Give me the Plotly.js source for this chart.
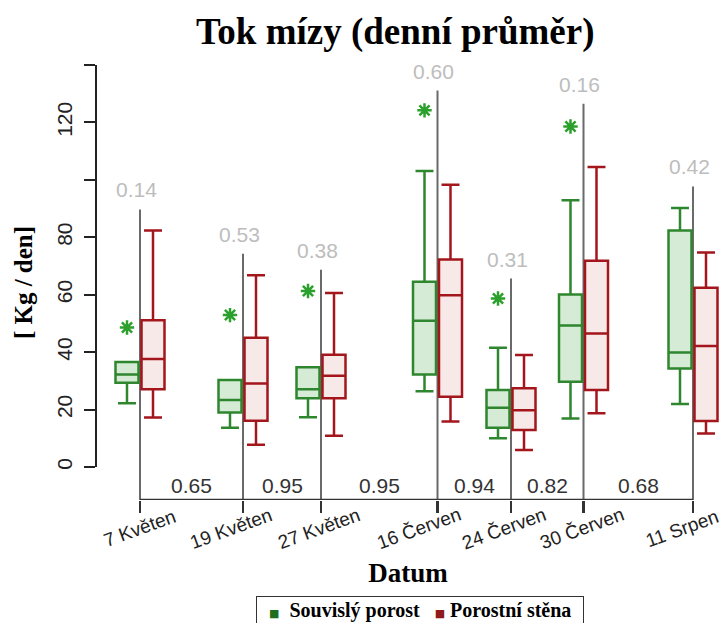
<!DOCTYPE html>
<html>
<head>
<meta charset="utf-8">
<script src="https://cdn.plot.ly/plotly-3.0.1.min.js"></script>
<style>html,body{margin:0;padding:0;background:#fff;}#chart{width:720px;height:623px;}</style>
</head>
<body>
<div id="chart"></div>
<script>
// ---- data ----
const dates = ['7 Květen','19 Květen','27 Květen','16 Červen','24 Červen','30 Červen','11 Srpen'];
const seriesNames = ['Souvislý porost', 'Porostní stěna'];

const greenQ1     = [29.3, 19.0, 23.9, 32.2, 13.7, 29.7, 34.3];
const greenMedian = [32.2, 23.3, 27.1, 50.9, 20.6, 49.3, 39.9];
const greenQ3     = [36.6, 30.3, 34.7, 64.5, 26.8, 60.1, 82.4];
const greenLow    = [22.2, 13.7, 17.3, 26.4, 10.0, 16.9, 21.9];
const greenHigh   = [36.6, 30.3, 34.7, 103.1, 41.5, 92.9, 90.2];
const greenOutlier= [48.6, 52.9, 61.3, 124.2, 58.7, 118.6, null];

const redQ1     = [27.1, 16.1, 23.9, 24.5, 12.9, 26.8, 16.0];
const redMedian = [37.6, 29.1, 31.8, 59.8, 19.8, 46.5, 42.1];
const redQ3     = [51.1, 45.0, 39.1, 72.3, 27.4, 71.8, 62.4];
const redLow    = [17.2, 7.7, 10.9, 15.8, 5.9, 18.7, 11.7];
const redHigh   = [82.4, 66.8, 60.6, 98.3, 39.0, 104.5, 74.7];

const pTop       = ['0.14','0.53','0.38','0.60','0.31','0.16','0.42'];
const pTopHeight = [89.7, 74.3, 68.7, 131.1, 65.6, 126.5, 97.7];
const pBetween   = ['0.65','0.95','0.95','0.94','0.82','0.68'];

const yTickVals = [0, 20, 40, 60, 80, 100, 120, 140];
const yTickText = ['0', '20', '40', '60', '80', '', '120', ''];

// ---- layout constants ----
const slotPos = [0, 1.03, 1.81, 2.975, 3.71, 4.435, 5.53];   // x positions of the date slots
const dateLabelShift = [-1, -12, -2, -19, -7, -2, -11];       // px nudges of the slanted date labels
const boxOffset = 0.13;
const boxWidth = 0.23;
const yBottom = -11.5;

const GREEN = '#2e862e', GREEN_FILL = '#d5ebd5', STAR = '#1f6f1f';
const RED = '#a3161c', RED_FILL = '#f8e9e9';
const GREEN_KEY = '#1e6e1e', RED_KEY = '#8e1a1a';
const SANS = 'Liberation Sans, Arial, sans-serif';
const SERIF = 'Liberation Serif, Times New Roman, serif';

const greenX = slotPos.map(p => p - boxOffset);
const redX = slotPos.map(p => p + boxOffset);

const traces = [
  {
    type: 'box', name: seriesNames[0], x: greenX,
    q1: greenQ1, median: greenMedian, q3: greenQ3,
    lowerfence: greenLow, upperfence: greenHigh,
    width: boxWidth, whiskerwidth: 0.78, boxpoints: false,
    line: {color: GREEN, width: 2.5}, fillcolor: GREEN_FILL,
    showlegend: false
  },
  {
    type: 'box', name: seriesNames[1], x: redX,
    q1: redQ1, median: redMedian, q3: redQ3,
    lowerfence: redLow, upperfence: redHigh,
    width: boxWidth, whiskerwidth: 0.78, boxpoints: false,
    line: {color: RED, width: 2.5}, fillcolor: RED_FILL,
    showlegend: false
  },
  {
    type: 'scatter', mode: 'markers', name: seriesNames[0] + ' – odlehlé', x: greenX, y: greenOutlier,
    marker: {symbol: 'asterisk-open', size: 12, line: {color: STAR, width: 2.5}},
    showlegend: false, cliponaxis: false
  }
];

const shapes = [];
// vertical p-value lines
slotPos.forEach((p, i) => {
  shapes.push({type: 'line', xref: 'x', yref: 'y', x0: p, x1: p, y0: yBottom, y1: pTopHeight[i],
    line: {color: '#6a6a6a', width: 2}, layer: 'below'});
});
// baseline
shapes.push({type: 'line', xref: 'x', yref: 'y', x0: slotPos[0], x1: slotPos[slotPos.length - 1],
  y0: yBottom, y1: yBottom, line: {color: '#333', width: 2.5}});
// y axis line
shapes.push({type: 'line', xref: 'paper', yref: 'y', x0: 0, x1: 0, y0: 0, y1: 140,
  line: {color: '#222', width: 2}});

const annotations = [];
slotPos.forEach((p, i) => {
  annotations.push({xref: 'x', yref: 'y', x: p, y: pTopHeight[i], text: pTop[i],
    showarrow: false, yanchor: 'bottom', yshift: 6, xshift: -4,
    font: {family: SANS, size: 21, color: '#bdbdbd'}});
  // slanted date labels under the ticks
  annotations.push({xref: 'x', yref: 'paper', x: p, y: 0, text: dates[i],
    showarrow: false, textangle: -20, xanchor: 'center', yanchor: 'middle',
    xshift: dateLabelShift[i], yshift: -28,
    font: {family: SANS, size: 19, color: '#222'}});
});
pBetween.forEach((t, i) => {
  annotations.push({xref: 'x', yref: 'y', x: (slotPos[i] + slotPos[i + 1]) / 2, y: -6.3, text: t,
    showarrow: false, yanchor: 'middle',
    font: {family: SANS, size: 21, color: '#333'}});
});
// key (legend) box at the bottom
const sq = c => '<span style="font-family:DejaVu Sans;font-size:11px;color:' + c + '">■</span>';
const keyText = '&nbsp;&nbsp;' + sq(GREEN_KEY) + '&nbsp; ' + seriesNames[0] +
  '&nbsp;  ' + sq(RED_KEY) + ' ' + seriesNames[1] + '&nbsp;&nbsp;';
annotations.push({
  xref: 'paper', yref: 'paper', x: 0.519, y: -0.2207, xanchor: 'center', yanchor: 'top',
  text: '<b>' + keyText + '</b>', showarrow: false,
  bordercolor: '#333', borderwidth: 1, borderpad: 2, bgcolor: '#fff',
  font: {family: SERIF, size: 20, color: '#000'}
});

const layout = {
  width: 720, height: 623, autosize: false,
  margin: {l: 96, r: 0, t: 65, b: 123, pad: 0},
  paper_bgcolor: '#fff', plot_bgcolor: '#fff',
  showlegend: false,
  boxmode: 'overlay',
  title: {
    text: 'Tok mízy (denní průměr)',
    font: {family: SERIF, size: 37, color: '#000', weight: 'bold'},
    xref: 'container', x: 0.549, xanchor: 'center',
    yref: 'container', y: 0.95, yanchor: 'middle'
  },
  xaxis: {
    range: [-0.44, 5.80], showgrid: false, zeroline: false, showline: false,
    tickmode: 'array', tickvals: slotPos, ticktext: dates, showticklabels: false,
    ticks: 'outside', ticklen: 12, tickwidth: 2.5, tickcolor: '#333',
    title: {text: 'Datum', standoff: 51,
      font: {family: SERIF, size: 27, color: '#000', weight: 'bold'}},
    fixedrange: true
  },
  yaxis: {
    range: [yBottom, 140], showgrid: false, zeroline: false, showline: false,
    tickmode: 'array', tickvals: yTickVals, ticktext: yTickText,
    ticks: 'outside', ticklen: 11, tickwidth: 2, tickcolor: '#222',
    tickangle: -90, ticklabelstandoff: 4,
    tickfont: {family: SANS, size: 21, color: '#222'},
    title: {text: '[ Kg / den]', standoff: 12,
      font: {family: SERIF, size: 25, color: '#000', weight: 'bold'}},
    fixedrange: true
  },
  shapes: shapes,
  annotations: annotations
};

Plotly.newPlot('chart', traces, layout, {staticPlot: true, displayModeBar: false});
</script>
</body>
</html>
